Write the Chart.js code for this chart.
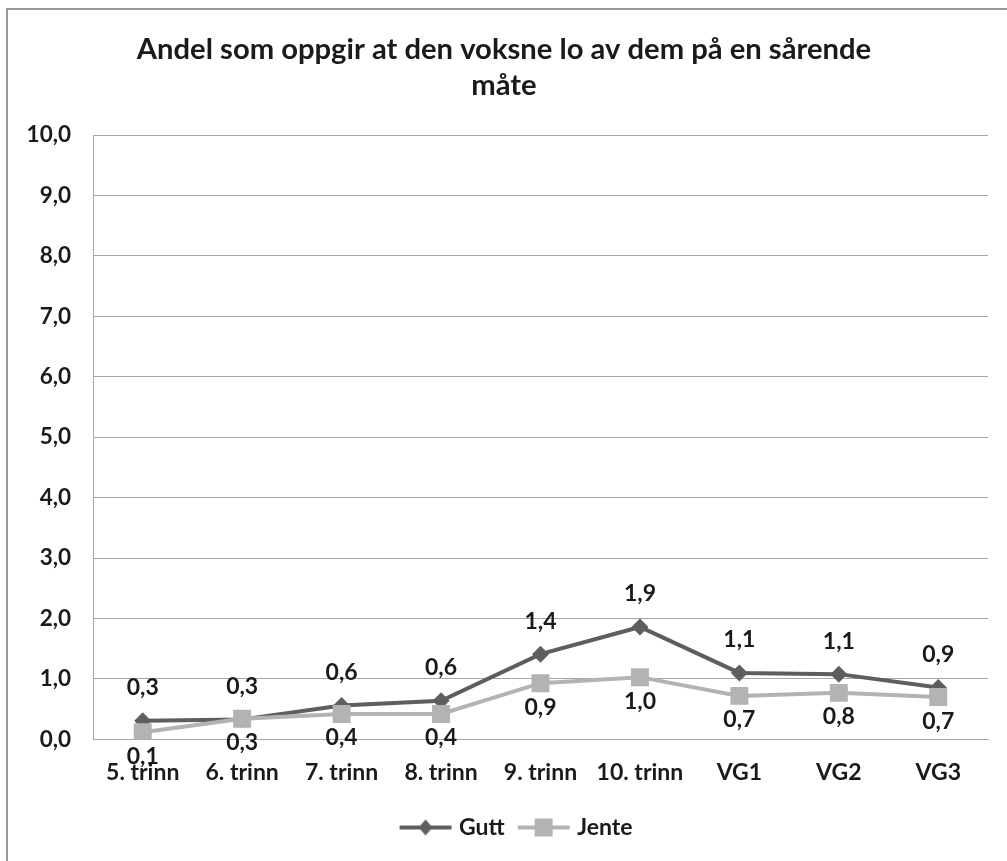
<!DOCTYPE html>
<html>
<head>
<meta charset="utf-8">
<script src="https://cdn.jsdelivr.net/npm/chart.js@4.4.0/dist/chart.umd.min.js"></script>
<style>
  html, body { margin: 0; padding: 0; background: #fff; }
  #wrap { width: 1007px; height: 861px; position: relative; }
</style>
</head>
<body>
<div id="wrap"><canvas id="lineChart"></canvas></div>
<script>
// kategorier og verdier lest av figuren
const trinn = ['5. trinn', '6. trinn', '7. trinn', '8. trinn', '9. trinn', '10. trinn', 'VG1', 'VG2', 'VG3'];
const gutt = [0.31, 0.33, 0.56, 0.64, 1.41, 1.86, 1.10, 1.08, 0.86];
const jente = [0.12, 0.34, 0.42, 0.42, 0.93, 1.03, 0.72, 0.77, 0.70];
const yTicks = [0, 1, 2, 3, 4, 5, 6, 7, 8, 9, 10];

const FONT = 'Lato, "Open Sans", sans-serif';
const GUTT_COLOR = '#5e5e5e';
const JENTE_COLOR = '#b3b3b3';

const fmt = v => v.toFixed(1).replace('.', ',');

// liten figur for forklaringen: linje med markør
function legendIcon(color, shape) {
    const c = document.createElement('canvas');
    c.width = 56; c.height = 20;
    const ctx = c.getContext('2d');
    ctx.strokeStyle = color;
    ctx.fillStyle = color;
    ctx.lineWidth = 4;
    ctx.beginPath();
    ctx.moveTo(2, 10); ctx.lineTo(54, 10);
    ctx.stroke();
    ctx.beginPath();
    if (shape === 'diamond') {
        ctx.moveTo(28, 2); ctx.lineTo(35, 10); ctx.lineTo(28, 18); ctx.lineTo(21, 10);
    } else {
        ctx.rect(19, 1, 18, 18);
    }
    ctx.closePath();
    ctx.fill();
    return c;
}

// tekstetiketter over/under punktene
const verdiEtiketter = {
    id: 'verdiEtiketter',
    afterDatasetsDraw(chart) {
        const ctx = chart.ctx;
        ctx.save();
        ctx.font = 'bold 23px ' + FONT;
        ctx.fillStyle = '#1a1a1a';
        ctx.textAlign = 'center';
        ctx.textBaseline = 'middle';
        chart.data.datasets.forEach((ds, i) => {
            const meta = chart.getDatasetMeta(i);
            meta.data.forEach((pt, j) => {
                const dy = ds.label === 'Gutt' ? -33 : 24;
                ctx.fillText(fmt(ds.data[j]), pt.x, pt.y + dy);
            });
        });
        ctx.restore();
    }
};

// ramme rundt figuren (bare topp og venstre synlig) + flytt forklaringen litt mot høyre
const ramme = {
    id: 'ramme',
    afterLayout(chart) {
        if (chart.legend) {
            chart.legend.left += 14;
            chart.legend.right += 14;
        }
    },
    beforeDraw(chart) {
        const ctx = chart.ctx;
        ctx.save();
        ctx.strokeStyle = '#9a9a9a';
        ctx.lineWidth = 2;
        ctx.beginPath();
        ctx.moveTo(7, 861);
        ctx.lineTo(7, 9);
        ctx.lineTo(1007, 9);
        ctx.stroke();
        ctx.restore();
    }
};

const ctx = document.getElementById('lineChart').getContext('2d');
new Chart(ctx, {
    type: 'line',
    data: {
        labels: trinn,
        datasets: [
            {
                label: 'Gutt',
                data: gutt,
                borderColor: GUTT_COLOR,
                backgroundColor: GUTT_COLOR,
                borderWidth: 4,
                pointStyle: 'rectRot',
                pointRadius: 8.5,
                pointBorderWidth: 0,
                order: 1,
                fill: false
            },
            {
                label: 'Jente',
                data: jente,
                borderColor: JENTE_COLOR,
                backgroundColor: JENTE_COLOR,
                borderWidth: 4,
                pointStyle: 'rect',
                pointRadius: 12.7,
                pointBorderWidth: 0,
                order: 0,
                fill: false
            }
        ]
    },
    options: {
        responsive: true,
        maintainAspectRatio: false,
        animation: false,
        layout: { padding: { left: 20, right: 19, top: 0, bottom: 12 } },
        plugins: {
            title: {
                display: true,
                text: ['Andel som oppgir at den voksne lo av dem på en sårende', 'måte'],
                color: '#1a1a1a',
                font: { family: FONT, size: 29.2, weight: 'bold', lineHeight: 1.233 },
                padding: { top: 32, bottom: 31 }
            },
            legend: {
                position: 'bottom',
                labels: {
                    usePointStyle: true,
                    pointStyleWidth: 44,
                    padding: 17,
                    color: '#1a1a1a',
                    font: { family: FONT, size: 23, weight: 'bold' },
                    sort: (a, b) => a.datasetIndex - b.datasetIndex,
                    generateLabels(chart) {
                        return chart.data.datasets.map((ds, i) => ({
                            text: ds.label,
                            datasetIndex: i,
                            pointStyle: legendIcon(ds.borderColor, ds.label === 'Gutt' ? 'diamond' : 'square'),
                            fillStyle: ds.borderColor,
                            strokeStyle: ds.borderColor,
                            lineWidth: 0,
                            fontColor: '#1a1a1a'
                        }));
                    }
                }
            },
            tooltip: { enabled: false }
        },
        scales: {
            x: {
                offset: true,
                afterFit(scale) { scale.height = 59.6; },
                grid: { display: false, drawTicks: false, offset: true },
                border: { color: '#a6a6a6', width: 1 },
                ticks: {
                    padding: 19,
                    color: '#1a1a1a',
                    maxRotation: 0,
                    autoSkip: false,
                    font: { family: FONT, size: 23, weight: 'bold' }
                }
            },
            y: {
                min: 0,
                max: 10,
                afterFit(scale) { scale.width = 73; },
                afterBuildTicks(scale) { scale.ticks = yTicks.map(v => ({ value: v })); },
                grid: { color: '#a6a6a6', lineWidth: 1, drawTicks: false },
                border: { color: '#a6a6a6', width: 1 },
                ticks: {
                    padding: 22,
                    color: '#1a1a1a',
                    font: { family: FONT, size: 22.5, weight: 'bold' },
                    callback: v => fmt(v)
                }
            }
        }
    },
    plugins: [verdiEtiketter, ramme]
});
</script>
</body>
</html>
